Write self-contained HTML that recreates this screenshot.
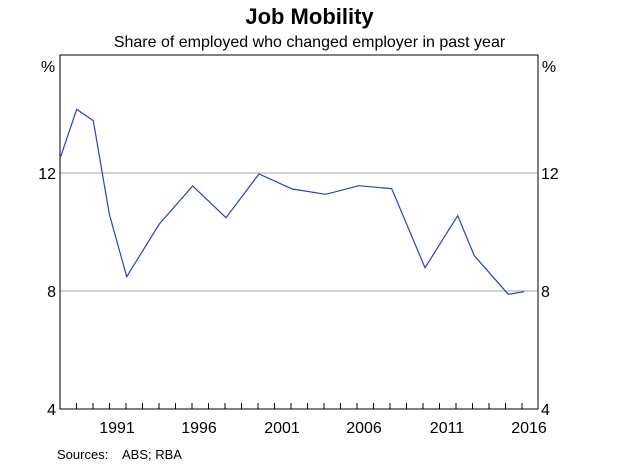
<!DOCTYPE html>
<html><head><meta charset="utf-8"><style>
body{margin:0;background:#fff}
svg{display:block;font-family:"Liberation Sans",Arial,sans-serif}
</style></head><body>
<svg width="619" height="467" viewBox="0 0 619 467">
<text x="309.5" y="24" text-anchor="middle" font-size="22" font-weight="bold">Job Mobility</text>
<text x="309.5" y="47" text-anchor="middle" font-size="16">Share of employed who changed employer in past year</text>
<line x1="60" y1="173" x2="538" y2="173" stroke="#a6a6a6" stroke-width="1"/>
<line x1="60" y1="291" x2="538" y2="291" stroke="#a6a6a6" stroke-width="1"/>
<rect x="60" y="55" width="478" height="354" fill="none" stroke="#000" stroke-width="1"/>
<g stroke="#000" stroke-width="1">
<path d="M76.5 409v-6M93 409v-6M109.5 409v-6M126 409v-6M142.5 409v-6M159 409v-6M175.5 409v-6M192 409v-6M208.5 409v-6M225 409v-6M241.5 409v-6M258 409v-6M274.5 409v-6M291 409v-6M307.5 409v-6M324 409v-6M340.5 409v-6M357 409v-6M373.5 409v-6M390 409v-6M406.5 409v-6M423 409v-6M439.5 409v-6M456 409v-6M472.5 409v-6M489 409v-6M505.5 409v-6M522 409v-6"/>
</g>
<polyline fill="none" stroke="#2b3fc0" stroke-width="1.2" points="60.7,156.7 76.7,109.3 93.3,120.7 109.3,214 126.7,276.7 159.3,224 192.7,186 226,217.7 259,174 292.3,189 325.7,194.3 359,185.7 391.7,188.7 425,267.7 457.7,215.7 474.3,255.7 508.3,294.3 524,291.7"/>
<g font-size="16">
<text x="48" y="72" text-anchor="middle">%</text>
<text x="549" y="72" text-anchor="middle">%</text>
<text x="56" y="179" text-anchor="end">12</text>
<text x="56" y="297" text-anchor="end">8</text>
<text x="56" y="415" text-anchor="end">4</text>
<text x="541" y="179">12</text>
<text x="541" y="297">8</text>
<text x="541" y="415">4</text>
<text x="117" y="433" text-anchor="middle">1991</text>
<text x="199" y="433" text-anchor="middle">1996</text>
<text x="282" y="433" text-anchor="middle">2001</text>
<text x="364" y="433" text-anchor="middle">2006</text>
<text x="447" y="433" text-anchor="middle">2011</text>
<text x="529" y="433" text-anchor="middle">2016</text>
</g>
<text x="57" y="459" font-size="13">Sources:</text>
<text x="122" y="459" font-size="13">ABS; RBA</text>
</svg>
</body></html>
